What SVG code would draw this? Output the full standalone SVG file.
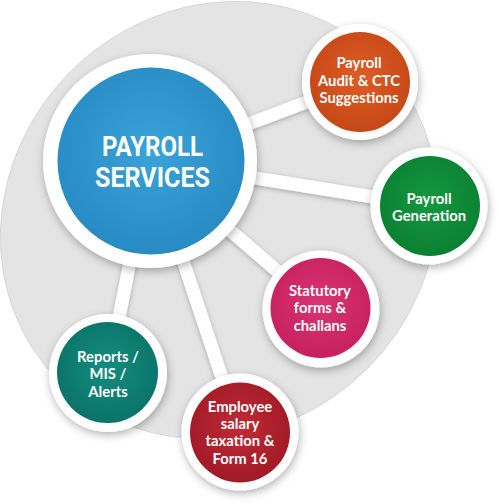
<svg xmlns="http://www.w3.org/2000/svg" width="500" height="503" viewBox="0 0 500 503">
<style>
.ring{fill:#ffffff}
.t{font-family:"Lato","Open Sans","Liberation Sans",sans-serif;font-weight:700;font-size:14.8px;fill:#ffffff;text-anchor:middle}
.tm{font-family:"Roboto","Liberation Sans",sans-serif;font-weight:700;font-size:28px;fill:#ffffff;text-anchor:middle}
.bar{stroke:#ffffff;stroke-width:13;fill:none}
</style>
<defs>
<filter id="sh" x="-30%" y="-30%" width="160%" height="160%">
<feDropShadow dx="1" dy="3" stdDeviation="4" flood-color="#000000" flood-opacity="0.3"/>
</filter>
<filter id="bsh" x="-30%" y="-30%" width="160%" height="160%">
<feDropShadow dx="0" dy="1.5" stdDeviation="2.5" flood-color="#000000" flood-opacity="0.28"/>
</filter>
<radialGradient id="gBlue" cx="50%" cy="45%" r="55%"><stop offset="0" stop-color="#3aa3d9"/><stop offset="1" stop-color="#288bc3"/></radialGradient>
<radialGradient id="gOrange" cx="50%" cy="45%" r="55%"><stop offset="0" stop-color="#df5c24"/><stop offset="1" stop-color="#c64817"/></radialGradient>
<radialGradient id="gGreen" cx="50%" cy="45%" r="55%"><stop offset="0" stop-color="#15983f"/><stop offset="1" stop-color="#0a8032"/></radialGradient>
<radialGradient id="gPink" cx="50%" cy="45%" r="55%"><stop offset="0" stop-color="#dc3373"/><stop offset="1" stop-color="#c6215e"/></radialGradient>
<radialGradient id="gTeal" cx="50%" cy="45%" r="55%"><stop offset="0" stop-color="#158c80"/><stop offset="1" stop-color="#0a7368"/></radialGradient>
<radialGradient id="gRed" cx="50%" cy="45%" r="55%"><stop offset="0" stop-color="#c22a36"/><stop offset="1" stop-color="#a01a25"/></radialGradient>
</defs>

<ellipse id="disc" cx="219" cy="220" rx="227" ry="210" transform="rotate(-45 219 220)" fill="#e4e4e4" stroke="#cfcfcf" stroke-width="0.7"/>

<g id="connectors" filter="url(#bsh)">
<line class="bar" x1="150" y1="161" x2="360" y2="82"/>
<line class="bar" x1="150" y1="161" x2="429" y2="206"/>
<line class="bar" x1="150" y1="161" x2="321" y2="309"/>
<line class="bar" x1="150" y1="161" x2="108" y2="373"/>
<line class="bar" x1="150" y1="161" x2="240" y2="432"/>
</g>

<g id="node-main">
<circle class="ring" cx="150" cy="161" r="107" filter="url(#sh)"/>
<circle cx="151" cy="161" r="93.5" fill="url(#gBlue)"/>
<text class="tm" x="152.5" y="156" textLength="101" lengthAdjust="spacingAndGlyphs">PAYROLL</text>
<text class="tm" x="152.5" y="186.5" textLength="115" lengthAdjust="spacingAndGlyphs">SERVICES</text>
</g>

<g id="node-audit">
<circle class="ring" cx="360" cy="82" r="58" filter="url(#sh)"/>
<circle cx="360" cy="82" r="50" fill="url(#gOrange)"/>
<text class="t" x="359" y="68">Payroll</text>
<text class="t" x="359" y="86">Audit &amp; CTC</text>
<text class="t" x="359" y="103">Suggestions</text>
</g>

<g id="node-generation">
<circle class="ring" cx="429" cy="206" r="58.5" filter="url(#sh)"/>
<circle cx="430" cy="206" r="50" fill="url(#gGreen)"/>
<text class="t" x="429" y="203.5">Payroll</text>
<text class="t" x="429" y="221">Generation</text>
</g>

<g id="node-statutory">
<circle class="ring" cx="321" cy="309" r="58.5" filter="url(#sh)"/>
<circle cx="320.5" cy="308" r="50" fill="url(#gPink)"/>
<text class="t" x="320" y="295.5">Statutory</text>
<text class="t" x="320" y="313">forms &amp;</text>
<text class="t" x="320" y="330.5">challans</text>
</g>

<g id="node-reports">
<circle class="ring" cx="108" cy="373" r="59" filter="url(#sh)"/>
<circle cx="107.5" cy="372.5" r="50.5" fill="url(#gTeal)"/>
<text class="t" x="108" y="361.5">Reports /</text>
<text class="t" x="108" y="379">MIS /</text>
<text class="t" x="108" y="396.5">Alerts</text>
</g>

<g id="node-employee">
<circle class="ring" cx="240" cy="432" r="58.5" filter="url(#sh)"/>
<circle cx="240" cy="432.5" r="50" fill="url(#gRed)"/>
<text class="t" x="240" y="411.5">Employee</text>
<text class="t" x="240" y="428.5">salary</text>
<text class="t" x="240" y="446">taxation &amp;</text>
<text class="t" x="240" y="463.5">Form 16</text>
</g>
</svg>
